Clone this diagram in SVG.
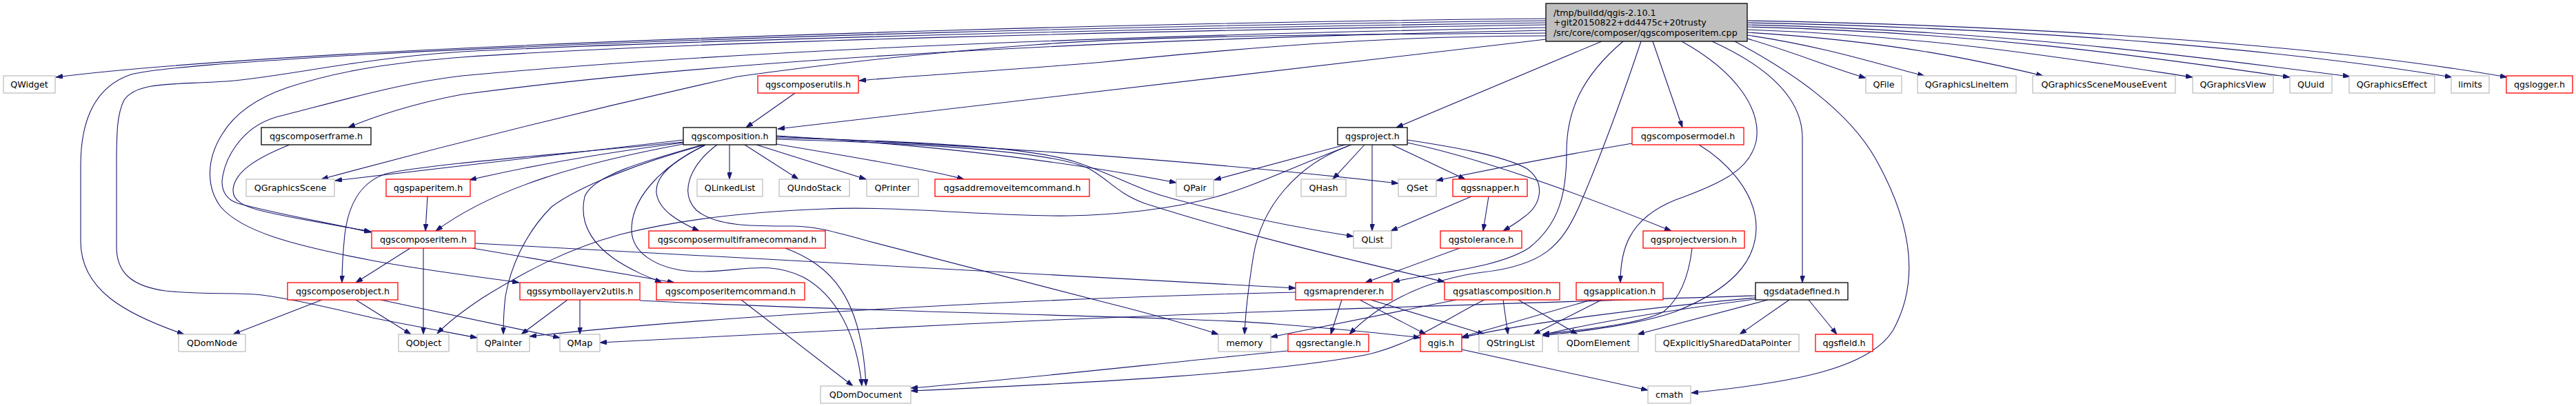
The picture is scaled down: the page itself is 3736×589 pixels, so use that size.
<svg xmlns="http://www.w3.org/2000/svg" width="3736" height="589" viewBox="0 0 3736 589">
<style>
rect{fill:#fff;stroke-width:1.3}
.g{stroke:#bfbfbf}
.r{stroke:#ff0000}
.k{stroke:#000}
text{font-family:"DejaVu Sans","Liberation Sans",sans-serif;font-size:12.7px;fill:#000;text-anchor:middle}
.e path{fill:none;stroke:#191970;stroke-width:1.1;marker-end:url(#a)}
</style>
<defs>
<marker id="a" markerWidth="10" markerHeight="7" refX="10" refY="3.5" orient="auto" markerUnits="userSpaceOnUse"><path d="M0,0 L10,3.5 L0,7 z" fill="#191970" stroke="#191970" stroke-width="0.8"/></marker>
</defs>
<rect x="0" y="0" width="3736" height="589" style="fill:#fff;stroke:none"/>
<g id="edges" class="e">
<path d="M2242,27 C1700,32 1000,52 530,77 C300,90 150,103 81,112"/>
<path d="M2242,30 C1700,36 1000,54 530,79 C350,90 230,98 190,108 C140,125 117,170 117,240 L117,350 C117,420 180,455 267,485"/>
<path d="M2242,33 C1700,40 1000,58 670,75 C520,85 430,108 340,117 C260,124 200,116 180,145 C170,165 169,190 169,240 L169,358 C169,395 190,415 240,422 C300,428 340,424 380,428 C440,436 500,452 540,461 C600,473 650,482 692,490"/>
<path d="M2242,36 C1700,44 1000,60 670,83 C580,90 500,100 417,127 C370,143 340,165 322,195 C300,230 298,270 320,300 C350,335 420,355 540,378 C620,393 700,402 753,410"/>
<path d="M2242,40 C1700,50 1100,70 670,110 C580,120 480,150 400,170 C350,185 325,230 322,263 C322,280 330,290 345,295 C400,310 470,322 538,337"/>
<path d="M2242,44 C1700,55 1100,80 670,137 C600,150 540,170 505,185"/>
<path d="M2242,48 C1900,50 1650,53 1500,65 C1300,80 1150,100 1070,111 C850,160 650,210 466,260"/>
<path d="M2242,52 C2000,52 1800,70 1600,90 C1450,103 1320,110 1246,117"/>
<path d="M2242,57 L1128,187"/>
<path d="M2323,60 L2025,185"/>
<path d="M2354,60 C2295,110 2272,160 2272,220 C2272,280 2262,325 2217,360 C2170,390 2080,395 2020,409"/>
<path d="M2380,60 C2350,150 2320,230 2290,300 C2265,355 2240,385 2150,395 C2070,405 2000,440 1957,485"/>
<path d="M2397,60 L2440,185"/>
<path d="M2439,60 C2520,105 2555,160 2547,205 C2538,245 2500,265 2430,290 C2360,318 2350,365 2350,410"/>
<path d="M2483,60 C2560,95 2614,140 2614,200 L2614,410"/>
<path d="M2516,60 C2600,105 2680,160 2720,230 C2765,310 2790,400 2745,480 C2710,535 2600,555 2453,570"/>
<path d="M2534,30 C3000,38 3400,70 3636,112"/>
<path d="M2534,33 C3000,42 3350,78 3556,112"/>
<path d="M2534,36 C2900,44 3200,84 3408,111"/>
<path d="M2534,39 C2900,48 3150,88 3321,112"/>
<path d="M2534,43 C2800,52 3000,85 3180,112"/>
<path d="M2534,47 C2750,60 2880,90 2963,110"/>
<path d="M2534,51 C2650,68 2730,95 2791,110"/>
<path d="M2534,56 C2600,75 2660,100 2706,113"/>
<path d="M1153,135 L1082,185"/>
<path d="M420,210 C370,230 340,250 338,275 C337,292 355,300 380,306 C430,318 490,327 538,336"/>
<path d="M991,203 C800,225 620,245 486,262"/>
<path d="M991,206 C800,225 620,238 560,252 C520,265 505,300 500,340 C497,370 496,390 496,410"/>
<path d="M991,207 C850,225 750,245 681,261"/>
<path d="M991,209 C850,235 720,270 632,335"/>
<path d="M1022,210 C930,235 840,270 800,300 C760,340 740,390 733,430 C730,455 730,470 730,485"/>
<path d="M1019,210 C930,235 860,255 848,285 C840,320 855,350 890,375 C915,392 940,402 960,410"/>
<path d="M1022,211 C970,235 918,280 916,330 C914,370 960,395 1020,394 C1080,393 1115,378 1165,402 C1212,428 1242,482 1250,560"/>
<path d="M1023,210 C975,235 950,255 952,280 C955,305 985,322 1014,335"/>
<path d="M1040,210 C1000,240 985,280 1010,305 C1040,330 1100,328 1150,328 C1190,329 1215,338 1260,350 L1600,438 C1680,458 1730,473 1767,485"/>
<path d="M1058,210 L1058,260"/>
<path d="M1080,210 L1158,260"/>
<path d="M1097,210 L1256,260"/>
<path d="M1126,209 C1250,230 1350,247 1398,260"/>
<path d="M1126,197 C1350,210 1550,235 1706,265"/>
<path d="M1126,198 C1500,215 1800,240 2028,266"/>
<path d="M1126,200 C1350,205 1500,215 1560,235 C1620,255 1650,275 1700,288 C1800,315 1900,333 1963,343"/>
<path d="M1126,202 C1350,208 1530,220 1580,245 C1610,262 1620,280 1660,295 C1800,340 1950,375 2095,409"/>
<path d="M1951,210 L1761,261"/>
<path d="M1960,210 C1880,240 1820,270 1762,286 C1700,303 1620,312 1550,313 C1450,315 1300,298 1198,303 C1110,306 1000,315 900,340 C820,362 760,395 700,432 C670,452 650,467 634,484"/>
<path d="M1955,212 C1880,240 1830,300 1818,370 C1810,420 1806,460 1805,485"/>
<path d="M1979,210 L1933,260"/>
<path d="M1990,210 L1990,335"/>
<path d="M2019,210 L2125,260"/>
<path d="M2041,203 C2100,212 2180,225 2215,245 C2242,265 2236,297 2210,315 C2200,323 2190,329 2180,335"/>
<path d="M2041,207 C2150,230 2300,285 2424,335"/>
<path d="M2367,208 C2250,228 2150,248 2083,262"/>
<path d="M2464,210 C2505,235 2547,280 2547,330 C2547,380 2510,420 2430,452 C2380,470 2300,480 2237,487"/>
<path d="M2134,285 L2017,335"/>
<path d="M2159,285 L2151,335"/>
<path d="M2117,360 L1980,410"/>
<path d="M2454,360 C2450,395 2440,430 2413,452 C2380,470 2300,478 2237,485"/>
<path d="M620,285 L617,335"/>
<path d="M595,360 L516,410"/>
<path d="M614,360 L614,485"/>
<path d="M685,360 L978,410"/>
<path d="M690,353 L1879,418"/>
<path d="M467,435 L338,485"/>
<path d="M516,435 L596,485"/>
<path d="M552,435 L812,490"/>
<path d="M823,435 L756,485"/>
<path d="M841,435 L841,485"/>
<path d="M928,436 C1300,455 1700,458 1850,470 C1950,478 2010,484 2060,490"/>
<path d="M1075,435 L1237,560"/>
<path d="M1139,360 C1205,385 1250,430 1256,560"/>
<path d="M1879,424 C1600,430 1100,452 768,488"/>
<path d="M1946,435 L1930,485"/>
<path d="M1972,435 L2068,485"/>
<path d="M1988,435 L2153,485"/>
<path d="M2112,435 L1843,489"/>
<path d="M2153,435 C2100,460 2050,500 1980,515 C1850,540 1600,555 1321,567"/>
<path d="M2180,435 L2187,485"/>
<path d="M2202,435 L2288,485"/>
<path d="M1868,509 C1700,525 1500,548 1321,563"/>
<path d="M2308,435 L2120,489"/>
<path d="M2323,435 L2224,485"/>
<path d="M2546,429 C2200,440 1700,455 1400,470 C1200,480 1000,490 870,497"/>
<path d="M2546,432 C2400,445 2200,470 2120,490"/>
<path d="M2546,434 C2420,450 2300,470 2237,486"/>
<path d="M2564,435 L2375,485"/>
<path d="M2595,435 L2523,485"/>
<path d="M2623,435 L2664,485"/>
<path d="M2120,507 L2390,566"/>
</g>
<g id="src"><rect x="2242" y="5" width="292" height="55" class="k" style="fill:#bfbfbf"/><text x="2253" y="22.5" style="text-anchor:start">/tmp/buildd/qgis-2.10.1</text><text x="2253" y="37" style="text-anchor:start">+git20150822+dd4475c+20trusty</text><text x="2253" y="51.5" style="text-anchor:start">/src/core/composer/qgscomposeritem.cpp</text></g>
<g id="QWidget"><rect x="5" y="110" width="75" height="25" class="g"/><text x="42.5" y="127">QWidget</text></g>
<g id="qgscomposerutils"><rect x="1099" y="110" width="146" height="25" class="r"/><text x="1172" y="127">qgscomposerutils.h</text></g>
<g id="QFile"><rect x="2706" y="110" width="52" height="25" class="g"/><text x="2732" y="127">QFile</text></g>
<g id="QGraphicsLineItem"><rect x="2781" y="110" width="143" height="25" class="g"/><text x="2852.5" y="127">QGraphicsLineItem</text></g>
<g id="QGraphicsSceneMouseEvent"><rect x="2948" y="110" width="207" height="25" class="g"/><text x="3051.5" y="127">QGraphicsSceneMouseEvent</text></g>
<g id="QGraphicsView"><rect x="3180" y="110" width="117" height="25" class="g"/><text x="3238.5" y="127">QGraphicsView</text></g>
<g id="QUuid"><rect x="3321" y="110" width="61" height="25" class="g"/><text x="3351.5" y="127">QUuid</text></g>
<g id="QGraphicsEffect"><rect x="3407" y="110" width="124" height="25" class="g"/><text x="3469" y="127">QGraphicsEffect</text></g>
<g id="limits"><rect x="3555" y="110" width="55" height="25" class="g"/><text x="3582.5" y="127">limits</text></g>
<g id="qgslogger"><rect x="3635" y="110" width="96" height="25" class="r"/><text x="3683" y="127">qgslogger.h</text></g>
<g id="qgscomposerframe"><rect x="379" y="185" width="159" height="25" class="k"/><text x="458.5" y="202">qgscomposerframe.h</text></g>
<g id="qgscomposition"><rect x="991" y="185" width="135" height="25" class="k"/><text x="1058.5" y="202">qgscomposition.h</text></g>
<g id="qgsproject"><rect x="1940" y="185" width="101" height="25" class="k"/><text x="1990.5" y="202">qgsproject.h</text></g>
<g id="qgscomposermodel"><rect x="2367" y="185" width="162" height="25" class="r"/><text x="2448" y="202">qgscomposermodel.h</text></g>
<g id="QGraphicsScene"><rect x="357" y="260" width="128" height="25" class="g"/><text x="421" y="277">QGraphicsScene</text></g>
<g id="qgspaperitem"><rect x="560" y="260" width="122" height="25" class="r"/><text x="621" y="277">qgspaperitem.h</text></g>
<g id="QLinkedList"><rect x="1011" y="260" width="95" height="25" class="g"/><text x="1058.5" y="277">QLinkedList</text></g>
<g id="QUndoStack"><rect x="1130" y="260" width="102" height="25" class="g"/><text x="1181" y="277">QUndoStack</text></g>
<g id="QPrinter"><rect x="1257" y="260" width="75" height="25" class="g"/><text x="1294.5" y="277">QPrinter</text></g>
<g id="qgsaddremoveitemcommand"><rect x="1356" y="260" width="224" height="25" class="r"/><text x="1468" y="277">qgsaddremoveitemcommand.h</text></g>
<g id="QPair"><rect x="1706" y="260" width="54" height="25" class="g"/><text x="1733" y="277">QPair</text></g>
<g id="QHash"><rect x="1887" y="260" width="65" height="25" class="g"/><text x="1919.5" y="277">QHash</text></g>
<g id="QSet"><rect x="2028" y="260" width="55" height="25" class="g"/><text x="2055.5" y="277">QSet</text></g>
<g id="qgssnapper"><rect x="2107" y="260" width="108" height="25" class="r"/><text x="2161" y="277">qgssnapper.h</text></g>
<g id="qgscomposeritem"><rect x="539" y="335" width="150" height="25" class="r"/><text x="614" y="352">qgscomposeritem.h</text></g>
<g id="qgscomposermultiframecommand"><rect x="941" y="335" width="256" height="25" class="r"/><text x="1069" y="352">qgscomposermultiframecommand.h</text></g>
<g id="QList"><rect x="1963" y="335" width="55" height="25" class="g"/><text x="1990.5" y="352">QList</text></g>
<g id="qgstolerance"><rect x="2089" y="335" width="118" height="25" class="r"/><text x="2148" y="352">qgstolerance.h</text></g>
<g id="qgsprojectversion"><rect x="2383" y="335" width="147" height="25" class="r"/><text x="2456.5" y="352">qgsprojectversion.h</text></g>
<g id="qgscomposerobject"><rect x="417" y="410" width="160" height="25" class="r"/><text x="497" y="427">qgscomposerobject.h</text></g>
<g id="qgssymbollayerv2utils"><rect x="754" y="410" width="174" height="25" class="r"/><text x="841" y="427">qgssymbollayerv2utils.h</text></g>
<g id="qgscomposeritemcommand"><rect x="952" y="410" width="215" height="25" class="r"/><text x="1059.5" y="427">qgscomposeritemcommand.h</text></g>
<g id="qgsmaprenderer"><rect x="1879" y="410" width="140" height="25" class="r"/><text x="1949" y="427">qgsmaprenderer.h</text></g>
<g id="qgsatlascomposition"><rect x="2095" y="410" width="167" height="25" class="r"/><text x="2178.5" y="427">qgsatlascomposition.h</text></g>
<g id="qgsapplication"><rect x="2286" y="410" width="126" height="25" class="r"/><text x="2349" y="427">qgsapplication.h</text></g>
<g id="qgsdatadefined"><rect x="2546" y="410" width="134" height="25" class="k"/><text x="2613" y="427">qgsdatadefined.h</text></g>
<g id="QDomNode"><rect x="259" y="485" width="97" height="25" class="g"/><text x="307.5" y="502">QDomNode</text></g>
<g id="QObject"><rect x="578" y="485" width="73" height="25" class="g"/><text x="614.5" y="502">QObject</text></g>
<g id="QPainter"><rect x="692" y="485" width="76" height="25" class="g"/><text x="730" y="502">QPainter</text></g>
<g id="QMap"><rect x="812" y="485" width="58" height="25" class="g"/><text x="841" y="502">QMap</text></g>
<g id="memory"><rect x="1767" y="485" width="76" height="25" class="g"/><text x="1805" y="502">memory</text></g>
<g id="qgsrectangle"><rect x="1868" y="485" width="117" height="25" class="r"/><text x="1926.5" y="502">qgsrectangle.h</text></g>
<g id="qgis"><rect x="2060" y="485" width="60" height="25" class="r"/><text x="2090" y="502">qgis.h</text></g>
<g id="QStringList"><rect x="2145" y="485" width="92" height="25" class="g"/><text x="2191" y="502">QStringList</text></g>
<g id="QDomElement"><rect x="2260" y="485" width="116" height="25" class="g"/><text x="2318" y="502">QDomElement</text></g>
<g id="QExplicitlySharedDataPointer"><rect x="2401" y="485" width="208" height="25" class="g"/><text x="2505" y="502">QExplicitlySharedDataPointer</text></g>
<g id="qgsfield"><rect x="2633" y="485" width="83" height="25" class="r"/><text x="2674.5" y="502">qgsfield.h</text></g>
<g id="QDomDocument"><rect x="1190" y="560" width="131" height="25" class="g"/><text x="1255.5" y="577">QDomDocument</text></g>
<g id="cmath"><rect x="2390" y="560" width="62" height="25" class="g"/><text x="2421" y="577">cmath</text></g>
</svg>
